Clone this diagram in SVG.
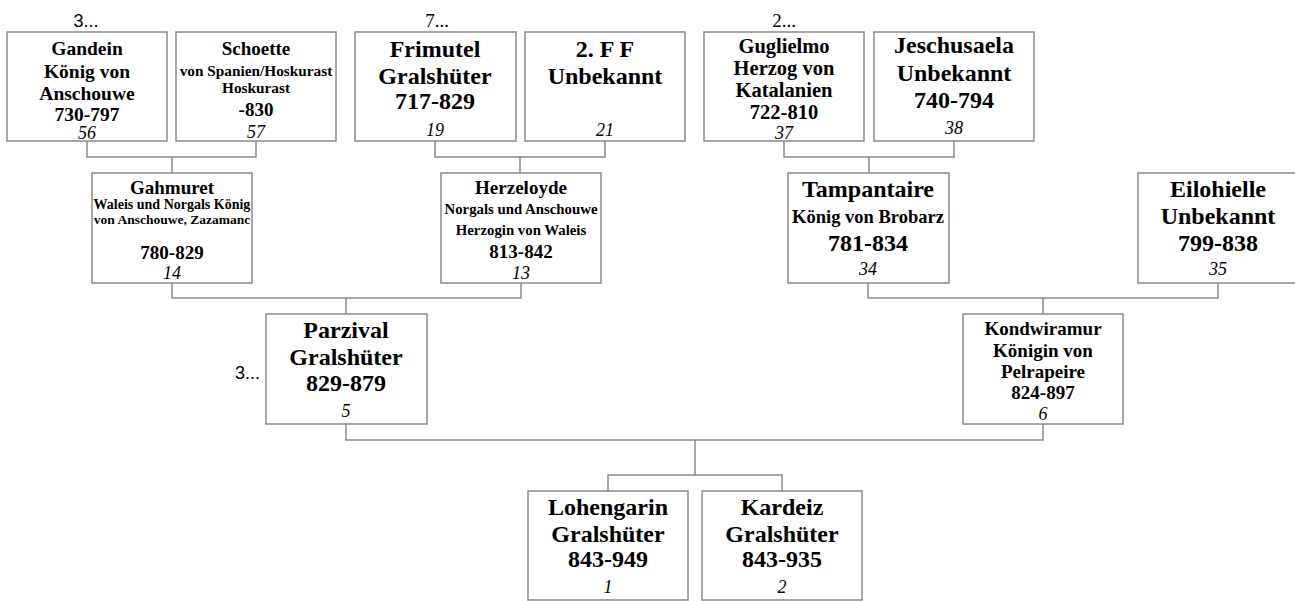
<svg xmlns="http://www.w3.org/2000/svg" width="1295" height="601" viewBox="0 0 1295 601" font-family="'Liberation Serif', 'Times New Roman', Times, 'DejaVu Serif', serif">
<style>
rect.box{fill:#fff;stroke:#8a8a8a;stroke-width:1.5}
#connectors path{fill:none;stroke:#8a8a8a;stroke-width:1.5}
text{font-family:'Liberation Serif','Times New Roman',Times,'DejaVu Serif',serif;fill:#000;text-anchor:middle}
.b{font-weight:bold}
.n{font-style:italic;font-size:18px}
.l{font-size:19px}
.ls{font-family:'Liberation Sans',Arial,sans-serif;font-size:18px}
</style>
<rect width="1295" height="601" fill="#fff"/>
<g id="connectors">
<path d="M87,141V157H256V141M172,157V173"/>
<path d="M435,141V157H605V141M520,157V173"/>
<path d="M784,141V157H954V141M869,157V173"/>
<path d="M172,283V298H521V283M346,298V314"/>
<path d="M868,283V298H1218V283M1043,298V314"/>
<path d="M346,424V440H1043V424M695,440V475"/>
<path d="M608,491V475H782V491"/>
</g>
<g id="labels">
<text class="ls" x="86" y="27">3...</text>
<text class="l" x="437" y="27">7...</text>
<text class="l" x="784" y="27">2...</text>
<text class="ls" x="260" y="379" style="text-anchor:end">3...</text>
</g>
<g id="gandein">
<rect class="box" x="7" y="32" width="160" height="109"/>
<text class="b" font-size="19.5" x="87" y="55">Gandein</text>
<text class="b" font-size="19.5" x="87" y="78">König von</text>
<text class="b" font-size="19.5" x="87" y="100">Anschouwe</text>
<text class="b" font-size="19.5" x="87" y="121">730-797</text>
<text class="n" x="87" y="139">56</text>
</g>
<g id="schoette">
<rect class="box" x="176" y="32" width="160" height="109"/>
<text class="b" font-size="19" x="256" y="55">Schoette</text>
<text class="b" font-size="15.3" x="256" y="76">von Spanien/Hoskurast</text>
<text class="b" font-size="15.3" x="256" y="93">Hoskurast</text>
<text class="b" font-size="19" x="256" y="116">-830</text>
<text class="n" x="256" y="138">57</text>
</g>
<g id="frimutel">
<rect class="box" x="355" y="32" width="161" height="109"/>
<text class="b" font-size="24" x="435" y="57">Frimutel</text>
<text class="b" font-size="24" x="435" y="84">Gralshüter</text>
<text class="b" font-size="24" x="435" y="109">717-829</text>
<text class="n" x="435" y="136">19</text>
</g>
<g id="ff">
<rect class="box" x="525" y="32" width="160" height="109"/>
<text class="b" font-size="24" x="605" y="57">2. F F</text>
<text class="b" font-size="24" x="605" y="84">Unbekannt</text>
<text class="n" x="605" y="136">21</text>
</g>
<g id="guglielmo">
<rect class="box" x="704" y="32" width="160" height="109"/>
<text class="b" font-size="20.5" x="784" y="53">Guglielmo</text>
<text class="b" font-size="20.5" x="784" y="75">Herzog von</text>
<text class="b" font-size="20.5" x="784" y="97">Katalanien</text>
<text class="b" font-size="20.5" x="784" y="119">722-810</text>
<text class="n" x="784" y="139">37</text>
</g>
<g id="jeschusaela">
<rect class="box" x="874" y="32" width="160" height="109"/>
<text class="b" font-size="24" x="954" y="53">Jeschusaela</text>
<text class="b" font-size="24" x="954" y="81">Unbekannt</text>
<text class="b" font-size="24" x="954" y="108">740-794</text>
<text class="n" x="954" y="134">38</text>
</g>
<g id="gahmuret">
<rect class="box" x="92" y="173" width="160" height="110"/>
<text class="b" font-size="19" x="172" y="194">Gahmuret</text>
<text class="b" font-size="14" x="172" y="209">Waleis und Norgals König</text>
<text class="b" font-size="13.5" x="172" y="224">von Anschouwe, Zazamanc</text>
<text class="b" font-size="19" x="172" y="259">780-829</text>
<text class="n" x="172" y="279">14</text>
</g>
<g id="herzeloyde">
<rect class="box" x="441" y="173" width="160" height="110"/>
<text class="b" font-size="19" x="521" y="194">Herzeloyde</text>
<text class="b" font-size="14.8" x="521" y="214">Norgals und Anschouwe</text>
<text class="b" font-size="14.8" x="521" y="235">Herzogin von Waleis</text>
<text class="b" font-size="19" x="521" y="258">813-842</text>
<text class="n" x="521" y="279">13</text>
</g>
<g id="tampantaire">
<rect class="box" x="788" y="173" width="161" height="110"/>
<text class="b" font-size="24" x="868" y="197">Tampantaire</text>
<text class="b" font-size="18.5" x="868" y="223">König von Brobarz</text>
<text class="b" font-size="24" x="868" y="251">781-834</text>
<text class="n" x="868" y="275">34</text>
</g>
<g id="eilohielle">
<rect class="box" x="1138" y="173" width="160" height="110"/>
<text class="b" font-size="24" x="1218" y="197">Eilohielle</text>
<text class="b" font-size="24" x="1218" y="224">Unbekannt</text>
<text class="b" font-size="24" x="1218" y="251">799-838</text>
<text class="n" x="1218" y="275">35</text>
</g>
<g id="parzival">
<rect class="box" x="266" y="314" width="161" height="110"/>
<text class="b" font-size="24" x="346" y="338">Parzival</text>
<text class="b" font-size="24" x="346" y="365">Gralshüter</text>
<text class="b" font-size="24" x="346" y="391">829-879</text>
<text class="n" x="346" y="417">5</text>
</g>
<g id="kondwiramur">
<rect class="box" x="963" y="314" width="160" height="110"/>
<text class="b" font-size="19" x="1043" y="335">Kondwiramur</text>
<text class="b" font-size="19" x="1043" y="357">Königin von</text>
<text class="b" font-size="19" x="1043" y="378">Pelrapeire</text>
<text class="b" font-size="19" x="1043" y="399">824-897</text>
<text class="n" x="1043" y="420">6</text>
</g>
<g id="lohengarin">
<rect class="box" x="528" y="491" width="160" height="109"/>
<text class="b" font-size="24" x="608" y="515">Lohengarin</text>
<text class="b" font-size="24" x="608" y="542">Gralshüter</text>
<text class="b" font-size="24" x="608" y="567">843-949</text>
<text class="n" x="608" y="593">1</text>
</g>
<g id="kardeiz">
<rect class="box" x="702" y="491" width="160" height="109"/>
<text class="b" font-size="24" x="782" y="515">Kardeiz</text>
<text class="b" font-size="24" x="782" y="542">Gralshüter</text>
<text class="b" font-size="24" x="782" y="567">843-935</text>
<text class="n" x="782" y="593">2</text>
</g>
</svg>
